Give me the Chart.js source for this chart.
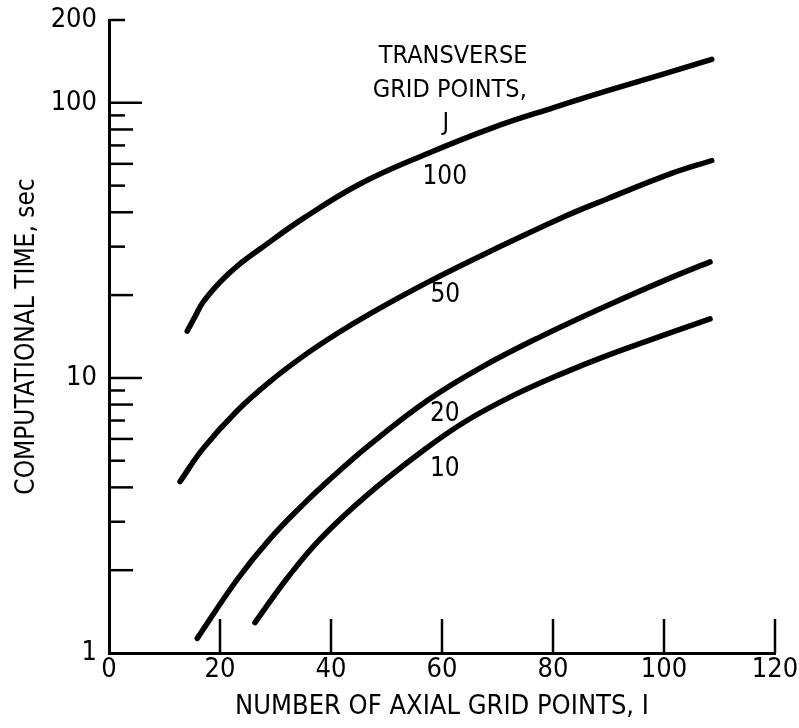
<!DOCTYPE html>
<html>
<head>
<meta charset="utf-8">
<script src="https://cdn.jsdelivr.net/npm/chart.js@4"></script>
<style>
  html, body { margin: 0; padding: 0; background: #fff; }
  #wrap { width: 799px; height: 728px; }
</style>
</head>
<body>
<div id="wrap"><canvas id="gridChart" width="799" height="728"></canvas></div>
<script>
/* ---- data ---- */
// J = 100
const i100 = [14.1, 15.5, 16.9, 20.0, 23.1, 27.2, 35.0, 45.2, 57.3, 69.2, 80.0, 90.0, 100.0, 108.6];
const t100 = [14.8, 16.7, 18.8, 22.3, 25.5, 29.4, 38.0, 50.7, 65.3, 81.3, 95.9, 110.9, 127.4, 143.9];
// J = 50
const i50 = [12.8, 16.9, 23.1, 29.0, 35.0, 41.1, 47.0, 57.3, 69.2, 81.3, 89.7, 101.6, 108.6];
const t50 = [4.20, 5.52, 7.60, 9.70, 12.0, 14.5, 17.1, 22.2, 29.2, 38.0, 44.7, 55.6, 61.7];
// J = 20
const i20 = [15.9, 23.1, 29.0, 35.0, 39.3, 47.0, 57.3, 67.0, 77.7, 89.7, 101.6, 108.3];
const t20 = [1.13, 1.85, 2.60, 3.47, 4.19, 5.72, 8.26, 10.9, 14.1, 18.3, 23.3, 26.4];
// J = 10
const i10 = [26.3, 32.1, 38.0, 46.5, 56.8, 64.5, 72.8, 81.3, 89.7, 101.6, 108.3];
const t10 = [1.29, 1.87, 2.59, 3.75, 5.48, 7.00, 8.62, 10.3, 12.05, 14.7, 16.4];

const xTicks = [0, 20, 40, 60, 80, 100, 120];
const yLabelTicks = [1, 10, 100, 200];
const yMarkTicks = [2, 3, 4, 5, 6, 7, 8, 9, 10, 20, 30, 40, 50, 60, 70, 80, 90, 100, 200];

// text written inside the plot (anchored in data units)
const noteText = ["TRANSVERSE", "GRID POINTS,", "J", "100", "50", "20", "10"];
const noteI = [62.0, 61.4, 60.7, 60.5, 60.6, 60.5, 60.5];
const noteT = [147, 111, 83.8, 53.8, 20.0, 7.36, 4.64];

const FONT = "'DejaVu Sans Condensed', 'Liberation Sans Narrow', 'Open Sans', sans-serif";

function pts(xs, ys) {
    return xs.map((x, k) => ({ x: x, y: ys[k] }));
}

function curve(label, xs, ys) {
    return {
        label: label,
        data: pts(xs, ys),
        borderColor: "#000",
        borderWidth: 5.5,
        borderCapStyle: "round",
        borderJoinStyle: "round",
        pointRadius: 0,
        fill: false,
        tension: 0.4
    };
}

/* tick marks pointing into the plot, like the original drawing */
const inwardTicks = {
    id: "inwardTicks",
    afterDatasetsDraw(chart) {
        const ctx = chart.ctx;
        const xs = chart.scales.x, ys = chart.scales.y;
        const area = chart.chartArea;
        ctx.save();
        ctx.strokeStyle = "#000";
        ctx.lineWidth = 2.5;
        yMarkTicks.forEach((v) => {
            const py = ys.getPixelForValue(v);
            const m = v / Math.pow(10, Math.floor(Math.log10(v) + 1e-9));
            let len = 16;
            if (Math.abs(m - 1) < 1e-6) len = 33;
            else if (Math.round(m) % 2 === 0 && v < 200) len = 24;
            ctx.beginPath();
            ctx.moveTo(area.left, py);
            ctx.lineTo(area.left + len, py);
            ctx.stroke();
        });
        xTicks.slice(1).forEach((v) => {
            const px = xs.getPixelForValue(v);
            ctx.beginPath();
            ctx.moveTo(px, area.bottom);
            ctx.lineTo(px, area.bottom - 34);
            ctx.stroke();
        });
        ctx.restore();
    }
};

const plotNotes = {
    id: "plotNotes",
    afterDatasetsDraw(chart) {
        const ctx = chart.ctx;
        const xs = chart.scales.x, ys = chart.scales.y;
        ctx.save();
        ctx.fillStyle = "#000";
        ctx.textAlign = "center";
        ctx.textBaseline = "middle";
        noteText.forEach((txt, k) => {
            ctx.font = (k < 3 ? "25px " : "26px ") + FONT;
            ctx.fillText(txt, xs.getPixelForValue(noteI[k]), ys.getPixelForValue(noteT[k]));
        });
        ctx.restore();
    }
};

const chart = new Chart(document.getElementById("gridChart").getContext("2d"), {
    type: "line",
    data: {
        datasets: [
            curve("J = 100", i100, t100),
            curve("J = 50", i50, t50),
            curve("J = 20", i20, t20),
            curve("J = 10", i10, t10)
        ]
    },
    options: {
        responsive: false,
        animation: false,
        layout: { padding: { left: 0, top: 20, right: 24, bottom: 0 } },
        plugins: {
            legend: { display: false },
            tooltip: { enabled: false }
        },
        scales: {
            x: {
                type: "linear",
                min: 0,
                max: 120,
                afterBuildTicks: (s) => { s.ticks = xTicks.map((v) => ({ value: v })); },
                afterFit: (s) => { s.height = 75; s.paddingLeft = 0; s.paddingRight = 0; },
                grid: { display: false, drawTicks: false },
                border: { display: true, color: "#000", width: 3 },
                ticks: {
                    color: "#000",
                    padding: 1,
                    maxRotation: 0,
                    font: { family: FONT, size: 27 }
                },
                title: {
                    display: true,
                    text: "NUMBER OF AXIAL GRID POINTS, I",
                    color: "#000",
                    font: { family: FONT, size: 27 },
                    padding: { top: 0, bottom: 5 }
                }
            },
            y: {
                type: "logarithmic",
                min: 1,
                max: 200,
                afterBuildTicks: (s) => { s.ticks = yLabelTicks.map((v) => ({ value: v })); },
                afterFit: (s) => { s.width = 109; s.paddingTop = 0; s.paddingBottom = 0; },
                grid: { display: false, drawTicks: false },
                border: { display: true, color: "#000", width: 3 },
                ticks: {
                    color: "#000",
                    padding: 12,
                    font: { family: FONT, size: 27 },
                    callback: (v) => String(v)
                },
                title: {
                    display: true,
                    text: "COMPUTATIONAL TIME, sec",
                    color: "#000",
                    font: { family: FONT, size: 26 },
                    padding: { top: 12, bottom: 0 }
                }
            }
        }
    },
    plugins: [inwardTicks, plotNotes]
});
</script>
</body>
</html>
